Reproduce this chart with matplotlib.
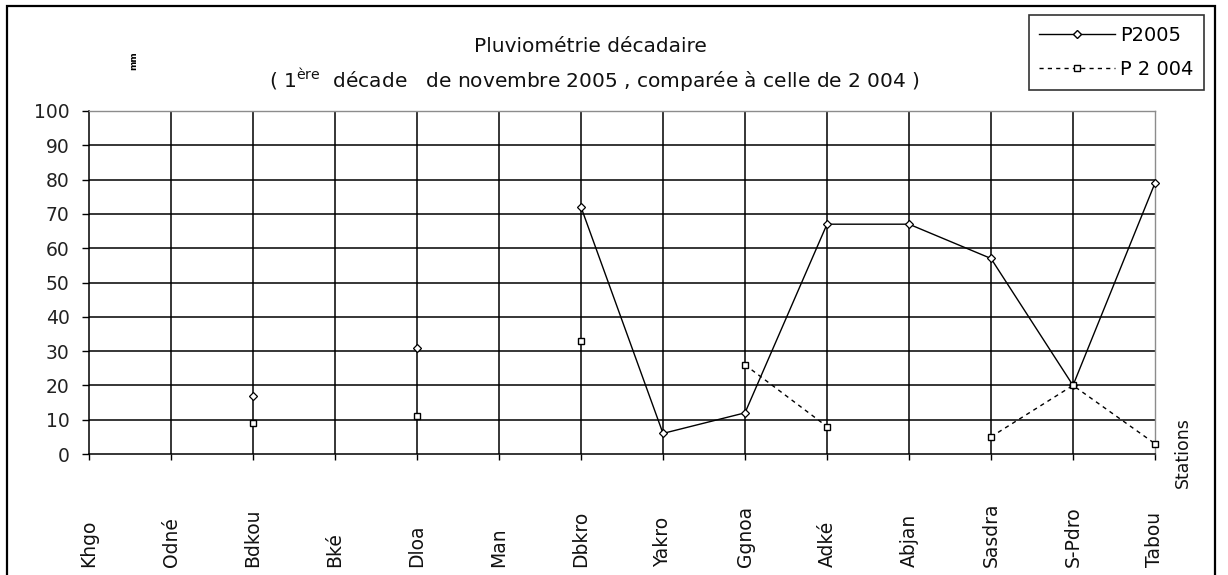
import numpy as np
import matplotlib
matplotlib.use("Agg")
import matplotlib.pyplot as plt
from matplotlib.patches import Rectangle
from matplotlib.lines import Line2D
from matplotlib.transforms import blended_transform_factory

plt.rcParams['font.family'] = ['DejaVu Sans']
plt.rcParams['mathtext.fontset'] = 'dejavusans'

stations = ["Khgo", "Odné", "Bdkou", "Bké", "Dloa", "Man", "Dbkro", "Yakro",
            "Ggnoa", "Adké", "Abjan", "Sasdra", "S-Pdro", "Tabou"]
nan = np.nan
p2005 = [nan, nan, 17, nan, 31, nan, 72, 6, 12, 67, 67, 57, 20, 79]
p2004 = [nan, nan, 9, nan, 11, nan, 33, nan, 26, 8, nan, 5, 20, 3]
yticks = [0, 10, 20, 30, 40, 50, 60, 70, 80, 90, 100]

W, H = 1228, 575
fig = plt.figure(figsize=(W / 100, H / 100), dpi=100)
fig.patch.set_facecolor('white')

def fx(px):
    return px / W

def fy(py):
    return 1 - py / H

ax = fig.add_axes([fx(89), fy(454), fx(1155) - fx(89), fy(111) - fy(454)])
x = np.arange(len(stations))

ax.set_xlim(0, len(stations) - 1)
ax.set_ylim(0, 100)

# grid
for v in yticks[1:-1]:
    ax.axhline(v, color='black', lw=1.1, zorder=1)
for xi in x[1:-1]:
    ax.axvline(xi, color='black', lw=1.1, zorder=1)

for s in ['left', 'bottom']:
    ax.spines[s].set_color('black')
    ax.spines[s].set_linewidth(1.1)
for s in ['top', 'right']:
    ax.spines[s].set_color('#8c8c8c')
    ax.spines[s].set_linewidth(1.0)

ax.plot(x, p2005, color='black', lw=1.0, marker='D', markersize=4.5,
        markerfacecolor='white', markeredgecolor='black', markeredgewidth=0.9,
        zorder=3, label='P2005', clip_on=False)
ax.plot(x, p2004, color='black', lw=1.0, linestyle=(0, (3, 3)), marker='s',
        markersize=4.5, markerfacecolor='white', markeredgecolor='black',
        markeredgewidth=1.0, zorder=3, label='P 2 004', clip_on=False)

ax.set_yticks(yticks)
ax.set_yticklabels([str(v) for v in yticks], fontsize=13.5)
ax.tick_params(axis='y', direction='out', length=5, width=1.0, pad=9,
               colors='black', labelcolor='#222222')
ax.set_xticks(x)
ax.set_xticklabels([''] * len(x))
ax.tick_params(axis='x', direction='out', length=4, width=1.0)

trans = blended_transform_factory(ax.transData, fig.transFigure)
for xi, name in zip(x, stations):
    ax.text(xi, fy(567), name, rotation=90, ha='center', va='bottom',
            fontsize=13.5, transform=trans, clip_on=False, color='#111111')

fig.text(fx(1183), fy(488), "Stations", rotation=90, ha='center', va='bottom',
         fontsize=12.5, color='#111111')

# titles
fig.text(fx(590), fy(46), "Pluviométrie décadaire", ha='center', va='center',
         fontsize=14.5, color='#111111')
fig.text(fx(594), fy(80),
         "( 1$^{\\mathregular{ère}}$  décade   de novembre 2005 , comparée à celle de 2 004 )",
         ha='center', va='center', fontsize=14.5, color='#111111')

# tiny unit label
fig.text(fx(134), fy(61), "mm", rotation=90, ha='center', va='center',
         fontsize=6.5, fontweight='bold')

# legend
handles = [
    Line2D([], [], color='black', lw=1.0, marker='D', markersize=4.5,
           markerfacecolor='white', markeredgecolor='black'),
    Line2D([], [], color='black', lw=1.0, linestyle=(0, (3, 3)), marker='s',
           markersize=4.5, markerfacecolor='white', markeredgecolor='black'),
]
leg = fig.legend(handles, ['P2005', 'P 2 004'], loc='upper right',
                 bbox_to_anchor=(fx(1204), fy(15)), fontsize=14, frameon=True,
                 fancybox=False, edgecolor='black', handlelength=3.9,
                 handletextpad=0.25, borderpad=0.55, labelspacing=0.8,
                 borderaxespad=0)
leg.get_frame().set_linewidth(1.2)

# figure border
fig.add_artist(Rectangle((fx(7), -0.1), fx(1215) - fx(7), fy(6) + 0.1,
                         transform=fig.transFigure, fill=False, ec='black',
                         lw=1.6, clip_on=False))

fig.savefig("out.png", dpi=100)
